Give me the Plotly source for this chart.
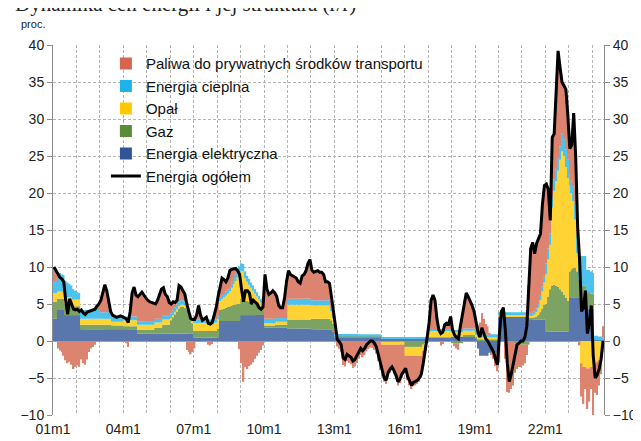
import plotly.graph_objects as go

# ---- data (contributions, p.p.), monthly 2001m1 .. 2024m6 ----
tick_labels = ["01m1", "04m1", "07m1", "10m1", "13m1", "16m1", "19m1", "22m1"]

energia_elektryczna = [
    3.0, 3.0, 4.2, 4.2, 4.2, 4.2, 3.5, 3.5, 3.5, 3.5, 3.5, 3.5,  # 2001
    3.5, 3.5, 1.6, 1.6, 1.6, 1.6, 1.6, 1.6, 1.6, 1.6, 1.6, 1.6,  # 2002
    1.6, 1.6, 1.6, 1.6, 1.6, 1.6, 1.6, 1.6, 1.6, 1.6, 1.6, 1.6,  # 2003
    1.6, 1.6, 1.6, 1.6, 1.6, 1.6, 1.6, 1.0, 1.0, 1.0, 1.0, 1.0,  # 2004
    1.0, 1.0, 1.0, 1.0, 1.0, 1.0, 1.0, 1.0, 1.0, 1.0, 1.0, 1.0,  # 2005
    1.0, 1.0, 1.0, 1.0, 1.0, 1.0, 1.0, 1.0, 1.0, 1.0, 1.0, 1.0,  # 2006
    0.45, 0.45, 0.45, 0.45, 0.45, 0.45, 0.45, 0.45, 0.45, 0.45, 0.45, 0.45,  # 2007
    0.5, 2.7, 2.7, 2.7, 2.7, 2.7, 2.7, 2.7, 2.7, 2.7, 2.7, 2.7,  # 2008
    3.5, 3.5, 3.5, 3.5, 3.5, 3.5, 3.5, 3.5, 3.5, 3.5, 3.5, 3.5,  # 2009
    1.8, 1.8, 1.8, 1.8, 1.8, 1.8, 1.8, 1.8, 1.8, 1.8, 1.8, 1.8,  # 2010
    1.7, 1.7, 1.7, 1.7, 1.7, 1.7, 1.7, 1.7, 1.7, 1.7, 1.7, 1.7,  # 2011
    1.5, 1.5, 1.5, 1.5, 1.5, 1.5, 1.5, 1.5, 1.5, 1.5, 1.5, 1.3,  # 2012
    0.5, 0.5, 0.5, 0.5, 0.5, 0.5, 0.5, 0.5, 0.5, 0.5, 0.5, 0.5,  # 2013
    0.5, 0.5, 0.5, 0.5, 0.5, 0.5, 0.5, 0.5, 0.5, 0.5, 0.5, 0.5,  # 2014
    0.3, 0.3, 0.3, 0.3, 0.3, 0.3, 0.3, 0.3, 0.3, 0.3, 0.3, 0.3,  # 2015
    0.3, 0.3, 0.3, 0.3, 0.3, 0.3, 0.3, 0.3, 0.3, 0.3, 0.3, 0.3,  # 2016
    0.5, 0.5, 0.5, 0.5, 0.5, 0.5, 0.5, 0.5, 0.5, 0.5, 0.5, 0.5,  # 2017
    0.6, 0.6, 0.6, 0.6, 0.6, 0.6, 0.6, 0.6, 0.6, 0.6, 0.6, 0.6,  # 2018
    0.3, -1.0, -2.0, -2.0, -2.0, -2.0, -2.0, -1.6, -1.6, -1.6, -1.6, -1.6,  # 2019
    3.3, 3.3, 3.3, 3.3, 3.3, 3.3, 3.3, 3.3, 3.3, 3.3, 3.3, 3.3,  # 2020
    3.3, 3.3, 3.3, 3.3, 2.9, 2.9, 2.9, 2.9, 2.9, 2.9, 2.9, 2.9,  # 2021
    1.3, 1.3, 1.3, 1.3, 1.3, 1.3, 1.3, 1.3, 1.3, 1.3, 1.3, 1.3,  # 2022
    5.9, 5.9, 5.9, 5.9, 5.9, 5.9, 5.3, 5.3, 5.3, 4.4, 4.4, 4.4,  # 2023
    4.4, 0.1, 0.1, 0.1, 0.1, 0.1,  # 2024
]

gaz = [
    2.3, 2.3, 1.5, 1.5, 1.5, 1.5, 1.5, 1.5, 1.5, 1.5, 1.2, 1.2,  # 2001
    1.2, 1.2, 0.6, 0.6, 0.6, 0.6, 0.6, 0.6, 0.6, 0.6, 0.6, 0.6,  # 2002
    0.6, 0.6, 0.6, 0.6, 0.6, 0.6, 0.5, 0.5, 0.5, 0.5, 0.5, 0.5,  # 2003
    0.4, 0.4, 0.4, 0.4, 0.4, 0.4, 0.4, 0.5, 0.5, 0.5, 0.5, 0.5,  # 2004
    0.5, 0.5, 0.5, 0.5, 0.8, 0.8, 0.8, 0.8, 1.2, 1.2, 1.2, 1.2,  # 2005
    1.8, 2.2, 2.6, 3.0, 3.4, 3.6, 3.6, 3.5, 3.2, 2.5, 1.8, 1.4,  # 2006
    0.9, 0.9, 0.9, 0.9, 0.9, 0.9, 0.9, 0.9, 0.9, 0.9, 0.9, 0.9,  # 2007
    1.2, 1.5, 1.6, 1.7, 1.8, 1.9, 2.0, 2.1, 2.2, 2.2, 2.3, 2.3,  # 2008
    2.2, 2.2, 2.0, 1.9, 1.8, 1.7, 1.6, 1.5, 1.4, 1.3, 1.2, 1.0,  # 2009
    0.3, 0.3, 0.3, 0.3, 0.3, 0.3, 0.4, 0.4, 0.4, 0.4, 0.4, 0.4,  # 2010
    1.2, 1.2, 1.2, 1.2, 1.2, 1.2, 1.2, 1.2, 1.2, 1.2, 1.2, 1.2,  # 2011
    1.5, 1.5, 1.5, 1.5, 1.5, 1.5, 1.5, 1.5, 1.5, 1.5, 1.3, 1.0,  # 2012
    0.1, 0.1, 0.1, 0.1, 0.1, 0.1, 0.1, 0.1, 0.1, 0.1, 0.1, 0.1,  # 2013
    0.1, 0.1, 0.1, 0.1, 0.1, 0.1, 0.1, 0.1, 0.1, 0.1, 0.1, 0.1,  # 2014
    -0.1, -0.1, -0.1, -0.1, -0.1, -0.1, -0.1, -0.1, -0.1, -0.1, -0.1, -0.1,  # 2015
    -0.8, -0.8, -0.8, -0.8, -0.8, -0.8, -0.8, -0.8, -0.8, -0.5, -0.3, 0.0,  # 2016
    0.0, 0.0, 0.0, 0.0, 0.0, 0.0, 0.0, 0.0, 0.0, 0.0, 0.0, 0.0,  # 2017
    -0.3, -0.3, -0.3, -0.3, -0.3, -0.3, 0.2, 0.2, 0.2, 0.2, 0.2, 0.2,  # 2018
    0.2, 0.2, 0.2, 0.2, 0.2, 0.2, 0.2, 0.2, 0.2, 0.2, 0.2, 0.2,  # 2019
    0.0, 0.0, 0.0, 0.0, 0.0, 0.0, 0.0, 0.0, -0.3, -0.3, -0.3, -0.5,  # 2020
    -0.5, -0.5, -0.5, -0.5, 0.2, 0.2, 0.3, 0.4, 0.6, 1.0, 1.5, 2.0,  # 2021
    3.7, 4.7, 5.7, 6.2, 6.3, 6.2, 6.0, 5.7, 5.4, 5.0, 4.5, 4.1,  # 2022
    3.5, 3.8, 4.0, 4.0, 3.5, 2.5, 2.2, 2.2, 2.2, 2.2, 2.2, 2.0,  # 2023
    2.0, 0.0, 0.0, 0.0, 0.0, 0.0,  # 2024
]

opal = [
    1.2, 1.2, 1.0, 1.0, 1.0, 1.0, 0.9, 0.9, 0.9, 0.9, 0.9, 0.9,  # 2001
    0.9, 0.9, 0.8, 0.8, 0.8, 0.8, 0.8, 0.8, 0.8, 0.8, 0.8, 0.8,  # 2002
    0.8, 0.8, 0.8, 0.8, 0.8, 0.8, 0.5, 0.5, 0.5, 0.5, 0.5, 0.5,  # 2003
    0.8, 0.8, 0.8, 0.8, 0.8, 0.8, 0.8, 0.7, 0.7, 0.7, 0.7, 0.7,  # 2004
    0.7, 0.7, 0.7, 0.7, 0.7, 0.7, 0.7, 0.7, 0.7, 0.7, 0.7, 0.7,  # 2005
    0.3, 0.3, 0.3, 0.3, 0.3, 0.3, 0.3, 0.3, 0.3, 0.3, 0.3, 0.3,  # 2006
    1.1, 1.1, 1.1, 1.1, 1.1, 1.1, 1.1, 1.1, 1.1, 1.1, 1.1, 1.1,  # 2007
    1.2, 1.2, 1.3, 1.5, 1.6, 1.8, 2.0, 2.4, 2.8, 3.2, 3.6, 3.9,  # 2008
    3.8, 3.7, 3.0, 2.6, 2.3, 2.0, 1.7, 1.4, 1.1, 0.8, 0.5, 0.3,  # 2009
    0.3, 0.3, 0.3, 0.3, 0.3, 0.3, 0.4, 0.4, 0.4, 0.4, 0.4, 0.4,  # 2010
    2.0, 2.0, 2.0, 2.0, 2.0, 2.0, 2.0, 2.0, 2.0, 2.0, 2.0, 2.0,  # 2011
    1.8, 1.8, 1.8, 1.8, 1.8, 1.8, 1.8, 1.8, 1.8, 1.8, 1.2, 0.8,  # 2012
    0.0, 0.0, 0.0, 0.0, 0.0, 0.0, 0.0, 0.0, 0.0, 0.0, 0.0, 0.0,  # 2013
    0.0, 0.0, 0.0, 0.0, 0.0, 0.0, 0.0, 0.0, 0.0, 0.0, 0.0, 0.0,  # 2014
    -0.4, -0.4, -0.4, -0.4, -0.4, -0.4, -0.4, -0.4, -0.4, -0.4, -0.4, -0.4,  # 2015
    -1.2, -1.2, -1.2, -1.2, -1.2, -1.2, -1.2, -1.2, -1.2, -0.8, -0.3, 0.3,  # 2016
    0.9, 0.9, 0.9, 0.9, 0.9, 0.9, 0.9, 0.9, 0.9, 0.9, 0.9, 0.9,  # 2017
    0.6, 0.6, 0.6, 0.6, 0.6, 0.6, 0.6, 0.6, 0.6, 0.6, 0.6, 0.6,  # 2018
    0.3, 0.3, 0.3, 0.3, 0.3, 0.3, 0.3, 0.3, 0.3, 0.3, 0.3, 0.3,  # 2019
    0.2, 0.2, 0.2, 0.2, 0.2, 0.2, 0.2, 0.2, 0.2, 0.2, 0.2, 0.2,  # 2020
    0.2, 0.2, 0.2, 0.2, 0.3, 0.3, 0.4, 0.6, 1.0, 1.6, 2.3, 3.0,  # 2021
    4.0, 5.0, 6.0, 10.5, 12.7, 14.1, 15.7, 17.5, 18.9, 18.7, 17.7, 16.6,  # 2022
    11.6, 10.3, 9.0, 6.5, 2.5, 0.0, -3.0, -3.5, -3.5, -3.7, -3.7, -3.5,  # 2023
    -3.5, -3.0, -2.8, -2.5, -2.0, -1.5,  # 2024
]

energia_cieplna = [
    1.6, 1.6, 2.5, 2.5, 2.3, 2.2, 2.2, 2.0, 1.8, 1.6, 1.4, 1.2,  # 2001
    1.0, 0.9, 1.2, 1.2, 1.2, 1.2, 1.2, 1.2, 1.2, 1.2, 1.2, 1.2,  # 2002
    0.9, 0.9, 0.9, 0.9, 0.9, 0.9, 0.6, 0.6, 0.6, 0.6, 0.6, 0.6,  # 2003
    0.5, 0.5, 0.5, 0.5, 0.5, 0.5, 0.5, 0.4, 0.4, 0.4, 0.4, 0.4,  # 2004
    0.4, 0.4, 0.4, 0.4, 0.5, 0.5, 0.5, 0.5, 0.5, 0.5, 0.5, 0.5,  # 2005
    0.6, 0.6, 0.6, 0.6, 0.6, 0.6, 0.6, 0.6, 0.6, 0.5, 0.5, 0.5,  # 2006
    0.45, 0.45, 0.45, 0.45, 0.45, 0.45, 0.45, 0.45, 0.45, 0.45, 0.45, 0.45,  # 2007
    0.5, 0.5, 0.5, 0.6, 0.6, 0.6, 0.6, 0.7, 0.8, 0.9, 1.0, 1.2,  # 2008
    1.0, 1.0, 0.9, 0.8, 0.8, 0.7, 0.7, 0.6, 0.6, 0.5, 0.5, 0.4,  # 2009
    0.6, 0.6, 0.6, 0.6, 0.6, 0.6, 0.5, 0.5, 0.5, 0.5, 0.5, 0.5,  # 2010
    0.8, 0.8, 0.8, 0.8, 0.8, 0.8, 0.8, 0.8, 0.8, 0.8, 0.8, 0.8,  # 2011
    0.7, 0.7, 0.7, 0.7, 0.7, 0.7, 0.7, 0.7, 0.7, 0.7, 0.6, 0.5,  # 2012
    0.35, 0.35, 0.35, 0.35, 0.35, 0.35, 0.35, 0.35, 0.35, 0.35, 0.35, 0.35,  # 2013
    0.3, 0.3, 0.3, 0.3, 0.3, 0.3, 0.3, 0.3, 0.3, 0.3, 0.3, 0.3,  # 2014
    0.2, 0.2, 0.2, 0.2, 0.2, 0.2, 0.2, 0.2, 0.2, 0.2, 0.2, 0.2,  # 2015
    0.2, 0.2, 0.2, 0.2, 0.2, 0.2, 0.2, 0.2, 0.2, 0.2, 0.2, 0.2,  # 2016
    0.2, 0.2, 0.2, 0.2, 0.2, 0.2, 0.2, 0.2, 0.2, 0.2, 0.2, 0.2,  # 2017
    0.3, 0.3, 0.3, 0.3, 0.3, 0.3, 0.3, 0.3, 0.3, 0.3, 0.3, 0.3,  # 2018
    0.4, 0.4, 0.4, 0.4, 0.4, 0.4, 0.4, 0.4, 0.4, 0.4, 0.4, 0.4,  # 2019
    0.4, 0.4, 0.4, 0.4, 0.4, 0.4, 0.4, 0.4, 0.4, 0.4, 0.4, 0.4,  # 2020
    0.4, 0.4, 0.4, 0.4, 0.4, 0.4, 0.4, 0.5, 0.5, 0.6, 0.7, 0.8,  # 2021
    1.5, 1.5, 1.5, 1.5, 1.5, 1.6, 1.7, 1.8, 2.4, 2.2, 2.4, 2.5,  # 2022
    1.5, 1.7, 2.0, 2.3, 2.5, 3.2, 4.0, 4.0, 4.0, 3.0, 3.0, 3.0,  # 2023
    2.8, 0.6, 0.6, 0.5, 0.5, 0.4,  # 2024
]

paliwa = [
    1.9, 1.4, -1.0, -1.3, -1.5, -2.0, -2.6, -3.0, -2.8, -3.2, -3.8, -3.5,  # 2001
    -3.3, -3.5, -2.5, -3.0, -3.2, -2.5, -1.5, -1.0, -0.8, -0.5, 0.3, 0.8,  # 2002
    1.6, 2.6, 3.7, 2.9, 1.6, 0.1, 0.3, 0.1, 0.0, 0.1, 0.2, 0.1,  # 2003
    -0.1, -0.3, -0.8, 0.7, 3.2, 4.0, 2.9, 3.4, 3.7, 4.0, 3.6, 3.2,  # 2004
    2.9, 2.7, 2.6, 2.4, 2.0, 2.5, 3.3, 4.0, 3.8, 2.9, 2.6, 1.8,  # 2005
    1.3, 1.2, 0.7, 0.6, 2.2, 1.8, 1.3, 0.9, -1.2, -1.5, -1.8, -1.5,  # 2006
    -1.0, 0.6, 1.9, 0.6, -0.1, 0.1, 0.3, -0.5, -0.6, -0.4, 0.6, 1.6,  # 2007
    2.6, 1.6, 2.4, 1.8, 1.3, 1.5, 2.2, 1.8, 1.3, 0.8, -0.1, -1.1,  # 2008
    -3.0, -5.5, -3.5, -3.8, -3.4, -3.2, -2.9, -2.4, -2.0, -1.6, -1.2, -0.6,  # 2009
    6.0, 4.0, 3.3, 3.5, 3.8, 3.5, 2.9, 1.7, 1.4, 1.4, 2.7, 4.9,  # 2010
    3.8, 3.3, 3.1, 3.0, 2.8, 2.3, 2.1, 3.1, 3.3, 3.8, 4.8, 5.3,  # 2011
    4.1, 3.8, 3.9, 4.0, 3.8, 3.8, 3.5, 2.5, 2.5, 2.3, 1.4, 0.4,  # 2012
    0.55, -0.75, -1.05, -1.45, -3.25, -3.45, -2.75, -2.95, -3.15, -3.65, -3.45, -2.95,  # 2013
    -2.4, -1.9, -2.2, -1.9, -1.4, -1.1, -0.9, -0.9, -1.2, -1.7, -2.7, -3.9,  # 2014
    -4.2, -5.0, -5.3, -4.3, -3.8, -3.5, -4.0, -4.6, -5.5, -5.2, -4.5, -4.0,  # 2015
    -2.2, -3.3, -4.0, -4.5, -4.1, -4.0, -3.8, -3.5, -3.0, -2.2, -1.4, -0.3,  # 2016
    0.9, 3.9, 4.6, 3.9, 1.4, -0.1, -0.6, -0.4, 0.6, 0.8, 0.7, 1.7,  # 2017
    0.3, -0.4, -0.7, -0.9, 0.8, 2.3, 3.8, 4.8, 4.3, 3.8, 3.1, 2.3,  # 2018
    1.3, 1.3, 1.6, 2.9, 2.1, 1.4, 1.1, 0.2, -0.3, -0.8, -1.8, -2.5,  # 2019
    -2.9, 0.1, 0.6, -2.4, -6.9, -7.0, -6.5, -6.0, -4.0, -3.5, -3.2, -3.0,  # 2020
    -2.8, -2.5, -1.4, 3.6, 8.7, 9.5, 7.8, 8.8, 8.8, 8.4, 11.1, 12.3,  # 2021
    10.7, 8.0, 1.8, 8.0, 6.2, 9.8, 14.5, 10.7, 7.0, 7.3, 8.1, 6.0,  # 2022
    3.5, 4.8, 9.9, 6.3, 1.1, -0.6, -4.5, -5.0, -3.0, -5.5, -4.5, -3.0,  # 2023
    -7.5, -4.0, -4.5, -3.5, -2.5, 1.5,  # 2024
]

energia_ogolem = [
    10.0, 9.5, 8.9, 8.6, 8.4, 8.0, 5.5, 3.6, 5.7, 5.0, 4.3, 4.2,  # 2001
    4.3, 4.0, 4.2, 3.8, 3.6, 3.9, 4.0, 4.2, 4.2, 4.3, 4.7, 5.0,  # 2002
    5.5, 6.5, 7.6, 6.8, 5.5, 4.0, 3.5, 3.3, 3.2, 3.3, 3.4, 3.3,  # 2003
    3.2, 3.0, 2.5, 4.0, 6.5, 7.3, 6.2, 6.0, 6.3, 6.6, 6.2, 5.8,  # 2004
    5.5, 5.3, 5.2, 5.0, 5.0, 5.5, 6.3, 7.0, 7.2, 6.3, 6.0, 5.2,  # 2005
    5.0, 5.3, 5.2, 5.5, 7.5, 7.3, 6.8, 6.3, 5.0, 4.0, 3.0, 2.9,  # 2006
    2.9, 3.5, 4.8, 3.5, 2.8, 3.0, 3.2, 2.4, 2.3, 2.5, 3.5, 4.5,  # 2007
    6.0, 7.5, 8.5, 8.3, 8.0, 8.5, 9.5, 9.7, 9.8, 9.8, 9.5, 9.0,  # 2008
    7.0, 5.3, 6.8, 6.8, 6.5, 5.0, 5.5, 5.3, 5.0, 4.5, 4.3, 4.6,  # 2009
    9.0, 7.0, 6.3, 6.5, 6.8, 6.5, 6.0, 4.8, 4.5, 4.5, 5.8, 8.0,  # 2010
    9.5, 9.0, 8.8, 8.7, 8.5, 8.0, 7.8, 8.8, 9.0, 9.5, 10.5, 11.0,  # 2011
    9.6, 9.3, 9.4, 9.5, 9.3, 9.3, 9.0, 8.0, 8.0, 7.8, 6.0, 4.0,  # 2012
    1.5, 0.2, -0.1, -0.5, -2.3, -2.5, -1.8, -2.0, -2.2, -2.7, -2.5, -2.0,  # 2013
    -1.5, -1.0, -1.3, -1.0, -0.5, -0.2, 0.0, 0.0, -0.3, -0.8, -1.8, -3.0,  # 2014
    -4.2, -5.0, -5.3, -4.3, -3.8, -3.5, -4.0, -4.6, -5.5, -5.2, -4.5, -4.0,  # 2015
    -3.7, -4.8, -5.5, -6.0, -5.6, -5.5, -5.3, -5.0, -4.5, -3.0, -1.5, 0.5,  # 2016
    2.5, 5.5, 6.2, 5.5, 3.0, 1.5, 1.0, 1.2, 2.2, 2.4, 2.3, 3.3,  # 2017
    1.5, 0.8, 0.5, 0.3, 2.0, 3.5, 5.5, 6.5, 6.0, 5.5, 4.8, 4.0,  # 2018
    2.5, 1.2, 0.5, 1.8, 1.0, 0.3, 0.0, -0.5, -1.0, -1.5, -2.5, -3.2,  # 2019
    1.0, 4.0, 4.5, 1.5, -3.0, -5.5, -4.5, -3.2, -1.5, -0.5, -0.3, 0.0,  # 2020
    0.0, 0.5, 2.0, 7.0, 12.5, 13.3, 11.8, 13.2, 13.8, 14.5, 18.5, 21.0,  # 2021
    21.2, 20.5, 16.3, 27.5, 28.0, 33.0, 39.2, 37.0, 35.0, 34.5, 34.0, 30.5,  # 2022
    26.0, 26.5, 30.8, 25.0, 15.5, 11.0, 4.0, 4.5, 6.8, 1.0, 2.5, 4.8,  # 2023
    -2.0, -5.0, -4.6, -3.8, -2.5, 0.0,  # 2024
]

# ---- figure ----
n = len(energia_ogolem)
x = list(range(n))
FONT = "Liberation Sans, Arial, sans-serif"

# (name, values, legend colour, bar colour - lighter, as the thin Excel bars look)
series = [
    ("Energia elektryczna", energia_elektryczna, "#2F5597", "#5977AC", 5),
    ("Gaz", gaz, "#5B8C3A", "#7CA361", 4),
    ("Opał", opal, "#FFC800", "#FFD333", 3),
    ("Energia cieplna", energia_cieplna, "#1EB4EA", "#4BC3EE", 2),
    ("Paliwa do prywatnych środków transportu", paliwa, "#D4654E", "#DD8471", 1),
]

fig = go.Figure()
for name, vals, leg_col, bar_col, rank in series:
    fig.add_trace(go.Bar(
        x=x, y=vals, name=name, showlegend=False, legendgroup=name,
        marker=dict(color=bar_col, line=dict(width=0)),
    ))
# legend entries in full colour
for name, vals, leg_col, bar_col, rank in series:
    fig.add_trace(go.Bar(
        x=[None], y=[None], name=name, legendrank=rank, legendgroup=name,
        marker=dict(color=leg_col, line=dict(width=0)),
    ))
fig.add_trace(go.Scatter(
    x=x, y=energia_ogolem, name="Energia ogółem", mode="lines",
    line=dict(color="black", width=3), legendrank=6, legendgroup="tot",
))
# invisible helper trace so the right-hand axis is drawn
fig.add_trace(go.Scatter(
    x=x, y=energia_ogolem, yaxis="y2", mode="lines", showlegend=False,
    line=dict(color="rgba(0,0,0,0)", width=0), hoverinfo="skip",
))

# yearly gridlines, labels every three years
grid_vals = [12 * k - 0.5 for k in range(24)]
grid_text = []
for k in range(24):
    lab = ""
    if k % 3 == 0 and k // 3 < len(tick_labels):
        lab = tick_labels[k // 3]
    grid_text.append(lab)

yaxis_common = dict(
    range=[-10, 40], tick0=-10, dtick=5, tickfont=dict(size=14, color="#222", family=FONT),
    showline=True, linecolor="#8c8c8c", linewidth=1,
    ticks="outside", ticklen=5, tickcolor="#8c8c8c",
)

fig.update_layout(
    width=641, height=441,
    margin=dict(l=43, r=34, t=37, b=26),
    paper_bgcolor="white", plot_bgcolor="white",
    barmode="relative", bargap=0.2,
    font=dict(family=FONT, color="#222"),
    xaxis=dict(
        range=[-0.5, n - 0.5], tickmode="array", tickvals=grid_vals, ticktext=grid_text,
        showgrid=True, gridcolor="#b4b4b4", griddash="3px,2px", gridwidth=1,
        ticks="", showline=False, zeroline=False, ticklabelstandoff=4,
        tickfont=dict(size=14, color="#222", family=FONT),
    ),
    yaxis=dict(
        **yaxis_common, showgrid=True, gridcolor="#b4b4b4", griddash="3px,2px", gridwidth=1,
        zeroline=True, zerolinecolor="#a0a0a0", zerolinewidth=1.5,
    ),
    yaxis2=dict(**yaxis_common, overlaying="y", side="right", showgrid=False, zeroline=False),
    legend=dict(
        x=0.096, y=0.994, xanchor="left", yanchor="top",
        bgcolor="rgba(0,0,0,0)", font=dict(size=15, family=FONT, color="#111"),
        tracegroupgap=0, traceorder="normal",
    ),
    showlegend=True,
)

fig.add_annotation(
    text="proc.", xref="paper", yref="paper", x=-0.062, y=1.058,
    xanchor="left", yanchor="middle", showarrow=False,
    font=dict(size=11, family=FONT, color="#222"),
)
fig.add_annotation(
    text="Dynamika cen energii i jej struktura (r/r)", xref="paper", yref="paper",
    x=-0.072, y=1.110, xanchor="left", yanchor="middle", showarrow=False,
    font=dict(size=21, family="Liberation Serif, Times New Roman, serif", color="#222"),
)

fig.write_html("out.html")
